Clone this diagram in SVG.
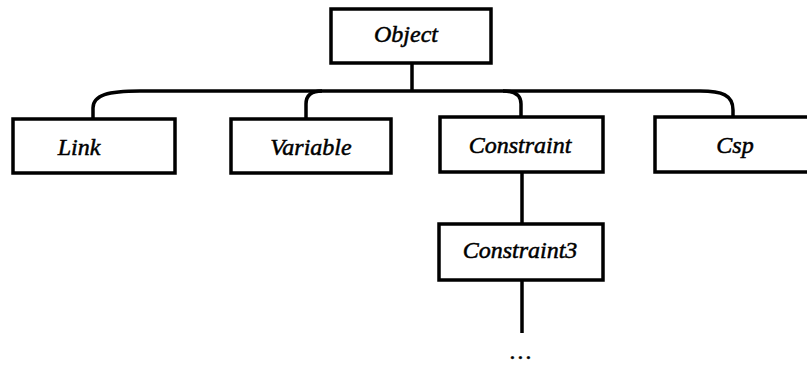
<svg xmlns="http://www.w3.org/2000/svg" width="807" height="366" viewBox="0 0 807 366">
  <style>
    .box { fill: #ffffff; stroke: #000000; stroke-width: 3.5; }
    .edge { fill: none; stroke: #000000; stroke-width: 3.5; }
    .label { font-family: "Liberation Serif", "Times New Roman", serif; font-style: italic; font-size: 24px; fill: #000000; stroke: #000000; stroke-width: 0.5; text-anchor: middle; }
  </style>
  <rect width="807" height="366" fill="#ffffff"/>

  <!-- inheritance connectors -->
  <g id="connectors">
    <line class="edge" x1="412" y1="63" x2="412" y2="91"/>
    <path class="edge" d="M93 119 V108 C93 95 108 91 140 91 H700 C722 91 733 95 733 110 V117"/>
    <path class="edge" d="M306 119 V104 Q306 91 322 91"/>
    <path class="edge" d="M521 117 V104 Q521 91 503 91"/>
    <line class="edge" x1="522" y1="172" x2="522" y2="224"/>
    <line class="edge" x1="522" y1="280" x2="522" y2="333"/>
  </g>

  <g id="object">
    <rect class="box" x="331" y="9" width="160" height="54"/>
    <text class="label" x="406" y="42">Object</text>
  </g>
  <g id="link">
    <rect class="box" x="13" y="119" width="162" height="54"/>
    <text class="label" x="79" y="155">Link</text>
  </g>
  <g id="variable">
    <rect class="box" x="231" y="119" width="160" height="54"/>
    <text class="label" x="311" y="155">Variable</text>
  </g>
  <g id="constraint">
    <rect class="box" x="440" y="117" width="163" height="55"/>
    <text class="label" x="520" y="153">Constraint</text>
  </g>
  <g id="csp">
    <rect class="box" x="655" y="117" width="170" height="55"/>
    <text class="label" x="735" y="153">Csp</text>
  </g>
  <g id="constraint3">
    <rect class="box" x="439" y="224" width="164" height="56"/>
    <text class="label" x="520" y="258">Constraint3</text>
  </g>
  <g id="more">
    <text class="label" x="522" y="359" font-size="20" letter-spacing="2">...</text>
  </g>
</svg>
